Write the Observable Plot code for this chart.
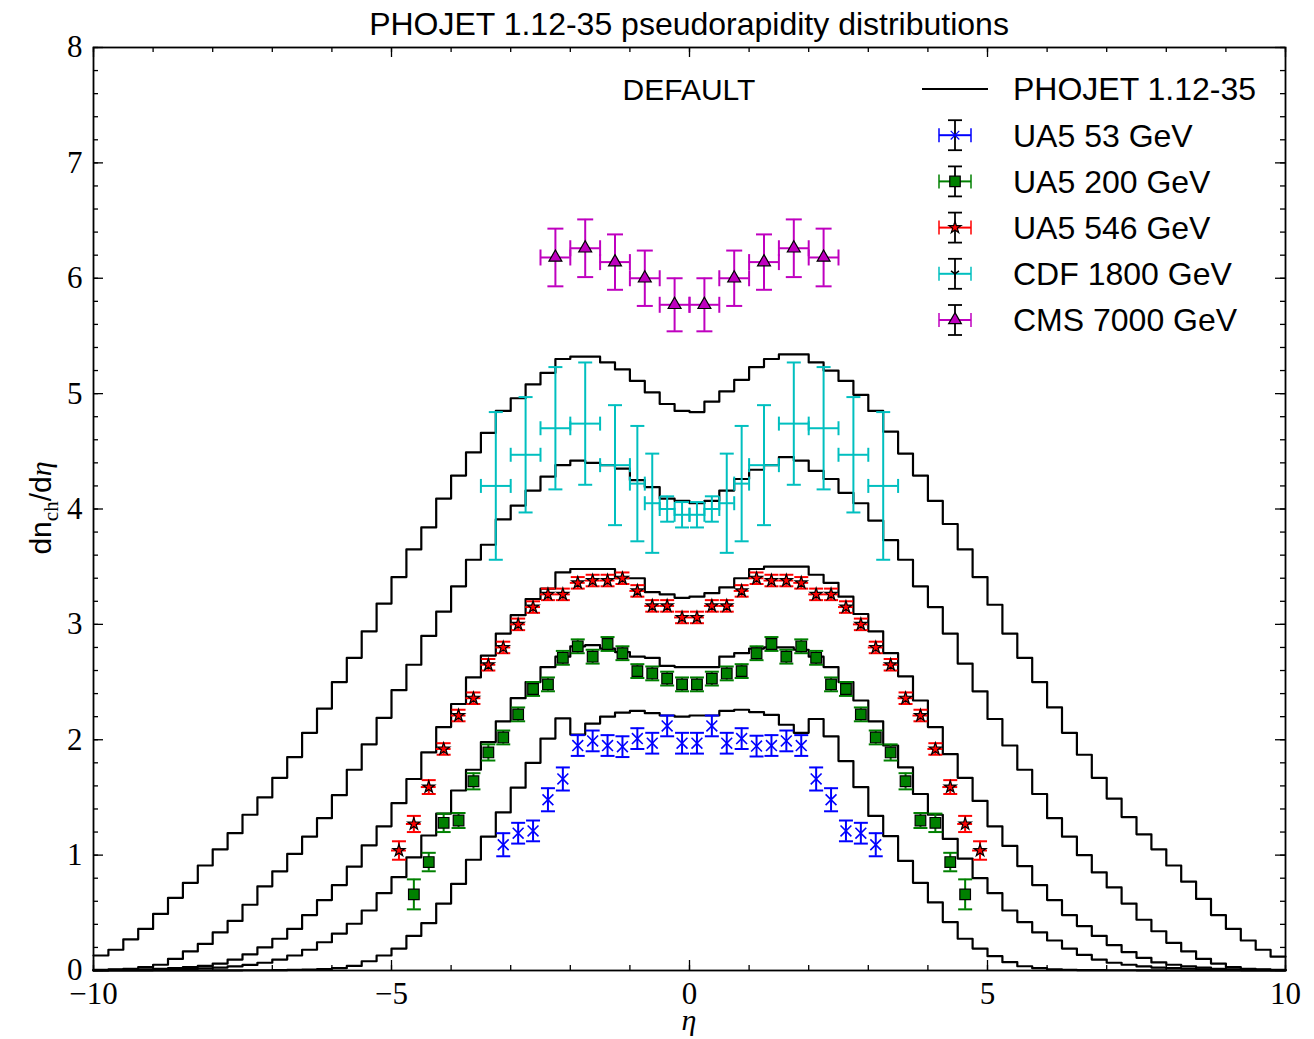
<!DOCTYPE html>
<html>
<head>
<meta charset="utf-8">
<script src="https://cdn.jsdelivr.net/npm/d3@7"></script>
<script src="https://cdn.jsdelivr.net/npm/@observablehq/plot@0.6"></script>
<style>
  html,body{margin:0;padding:0;background:#fff;}
  #wrap{position:relative;width:1314px;height:1039px;overflow:hidden;background:#fff;}
  #title{position:absolute;left:93px;width:1192px;top:6px;text-align:center;white-space:nowrap;font-family:"Liberation Sans",Arial,sans-serif;font-size:32px;line-height:36px;color:#000;}
  #chart svg{display:block;}
  #ylabel{position:absolute;left:44px;top:508px;transform:translate(-50%,-50%) rotate(-90deg);white-space:nowrap;font-family:"Liberation Sans",Arial,sans-serif;font-size:30px;line-height:1;color:#000;}
  #overlay{position:absolute;left:0;top:0;pointer-events:none;}
</style>
</head>
<body>
<div id="wrap">
  <div id="chart"></div>
  <div id="title">PHOJET 1.12-35 pseudorapidity distributions</div>
  <div id="ylabel">dn<sub style="font-family:'Liberation Serif',serif;font-size:21px;">ch</sub>/d<span style="font-family:'Liberation Serif',serif;font-style:italic;">η</span></div>
  <svg id="overlay" width="1314" height="1039"></svg>
</div>
<script>
// ---------------- data ----------------
const binLo = -10, binWidth = 0.25;   // PHOJET histograms: 80 bins of 0.25 from -10 to 10

const mc7000 = [0.13,0.18,0.27,0.36,0.49,0.63,0.76,0.91,1.05,1.19,
 1.35,1.50,1.67,1.85,2.06,2.27,2.50,2.71,2.94,3.18,
 3.41,3.65,3.84,4.09,4.29,4.49,4.66,4.85,4.96,5.08,
 5.18,5.30,5.32,5.32,5.27,5.21,5.11,5.01,4.91,4.85,
 4.84,4.93,5.02,5.12,5.23,5.30,5.34,5.34,5.27,5.20,
 5.11,4.99,4.85,4.67,4.48,4.29,4.07,3.87,3.65,3.41,
 3.17,2.92,2.71,2.50,2.28,2.06,1.87,1.67,1.49,1.33,
 1.18,1.05,0.91,0.77,0.62,0.48,0.36,0.26,0.18,0.12];

const mc1800 = [0.005,0.01,0.015,0.03,0.05,0.10,0.165,0.23,0.33,0.43,
 0.57,0.73,0.86,1.01,1.16,1.32,1.52,1.74,1.96,2.19,
 2.43,2.65,2.90,3.11,3.33,3.56,3.69,3.91,4.03,4.16,
 4.28,4.38,4.42,4.40,4.38,4.35,4.25,4.19,4.09,4.07,
 4.05,4.07,4.16,4.26,4.34,4.38,4.45,4.42,4.33,4.26,
 4.14,4.05,3.90,3.73,3.56,3.33,3.15,2.92,2.66,2.42,
 2.18,1.95,1.74,1.53,1.32,1.16,1.00,0.85,0.72,0.58,
 0.44,0.34,0.24,0.165,0.10,0.06,0.03,0.015,0.01,0.005];

const mc546 = [0.003,0.005,0.007,0.01,0.015,0.02,0.03,0.04,0.06,0.095,
 0.14,0.20,0.275,0.36,0.48,0.61,0.74,0.90,1.085,1.25,
 1.45,1.66,1.89,2.11,2.31,2.54,2.73,2.92,3.08,3.22,
 3.31,3.45,3.48,3.48,3.48,3.40,3.40,3.28,3.26,3.23,
 3.24,3.27,3.32,3.40,3.48,3.50,3.50,3.50,3.43,3.36,
 3.24,3.09,2.94,2.75,2.55,2.34,2.11,1.875,1.67,1.47,
 1.25,1.08,0.905,0.74,0.61,0.48,0.385,0.30,0.22,0.16,
 0.11,0.07,0.05,0.035,0.025,0.015,0.01,0.007,0.005,0.003];

const mc200 = [0.001,0.002,0.003,0.004,0.006,0.008,0.012,0.018,0.025,0.035,
 0.048,0.067,0.095,0.13,0.18,0.245,0.32,0.405,0.52,0.67,
 0.81,0.98,1.17,1.36,1.56,1.74,1.98,2.16,2.36,2.50,
 2.63,2.72,2.81,2.82,2.79,2.76,2.72,2.71,2.64,2.63,
 2.63,2.63,2.72,2.75,2.79,2.80,2.80,2.78,2.72,2.63,
 2.50,2.34,2.16,1.95,1.76,1.53,1.35,1.14,0.97,0.80,
 0.67,0.52,0.42,0.33,0.26,0.19,0.135,0.095,0.067,0.05,
 0.035,0.025,0.02,0.015,0.01,0.008,0.005,0.004,0.003,0.002];

const mc53 = [0,0,0,0,0,0,0,0,0.001,0.001,
 0.002,0.002,0.003,0.005,0.008,0.012,0.02,0.04,0.08,0.13,
 0.19,0.30,0.41,0.58,0.75,0.96,1.16,1.37,1.585,1.80,
 2.01,2.185,2.045,2.14,2.20,2.235,2.25,2.23,2.21,2.20,
 2.21,2.21,2.25,2.26,2.24,2.215,2.13,2.06,2.18,2.03,
 1.815,1.59,1.34,1.165,0.95,0.76,0.59,0.42,0.275,0.19,
 0.124,0.072,0.037,0.02,0.01,0.006,0.004,0.003,0.002,0.002,
 0.001,0.001,0,0,0,0,0,0,0,0];

// UA5 53 GeV
const ua5_53_eta = [-3.125,-2.875,-2.625,-2.375,-2.125,-1.875,-1.625,-1.375,-1.125,-0.875,-0.625,-0.375,-0.125,
                     0.125,0.375,0.625,0.875,1.125,1.375,1.625,1.875,2.125,2.375,2.625,2.875,3.125];
const ua5_53_val = [1.09,1.19,1.21,1.48,1.66,1.95,1.99,1.95,1.94,2.01,1.97,2.12,1.97,
                    1.97,2.12,1.97,2.01,1.945,1.95,1.99,1.95,1.66,1.48,1.21,1.19,1.09];
const ua5_53_err = [0.10,0.09,0.09,0.10,0.10,0.09,0.09,0.09,0.09,0.09,0.09,0.09,0.09,
                    0.09,0.09,0.09,0.09,0.09,0.09,0.09,0.09,0.10,0.10,0.09,0.09,0.10];

// UA5 200 GeV
const ua5_200_eta = [-4.625,-4.375,-4.125,-3.875,-3.625,-3.375,-3.125,-2.875,-2.625,-2.375,-2.125,-1.875,-1.625,-1.375,-1.125,-0.875,-0.625,-0.375,-0.125,
                      0.125,0.375,0.625,0.875,1.125,1.375,1.625,1.875,2.125,2.375,2.625,2.875,3.125,3.375,3.625,3.875,4.125,4.375,4.625];
const ua5_200_val = [0.66,0.94,1.28,1.30,1.64,1.89,2.02,2.22,2.44,2.48,2.71,2.81,2.72,2.83,2.75,2.595,2.575,2.53,2.48,
                     2.48,2.53,2.575,2.595,2.75,2.83,2.72,2.81,2.71,2.48,2.44,2.22,2.02,1.89,1.64,1.30,1.28,0.94,0.66];
const ua5_200_err = [0.13,0.08,0.08,0.065,0.07,0.07,0.06,0.06,0.06,0.06,0.06,0.06,0.06,0.06,0.06,0.06,0.06,0.06,0.06,
                     0.06,0.06,0.06,0.06,0.06,0.06,0.06,0.06,0.06,0.06,0.06,0.06,0.06,0.07,0.07,0.065,0.08,0.08,0.13];

// UA5 546 GeV
const ua5_546_eta = [-4.875,-4.625,-4.375,-4.125,-3.875,-3.625,-3.375,-3.125,-2.875,-2.625,-2.375,-2.125,-1.875,-1.625,-1.375,-1.125,-0.875,-0.625,-0.375,-0.125,
                      0.125,0.375,0.625,0.875,1.125,1.375,1.625,1.875,2.125,2.375,2.625,2.875,3.125,3.375,3.625,3.875,4.125,4.375,4.625,4.875];
const ua5_546_val = [1.04,1.27,1.59,1.92,2.21,2.36,2.65,2.80,3.00,3.15,3.26,3.26,3.36,3.38,3.38,3.40,3.29,3.16,3.16,3.06,
                     3.06,3.16,3.16,3.29,3.40,3.38,3.38,3.36,3.26,3.26,3.15,3.00,2.80,2.65,2.36,2.21,1.92,1.59,1.27,1.04];
const ua5_546_err = [0.08,0.07,0.06,0.05,0.05,0.05,0.05,0.05,0.05,0.05,0.05,0.05,0.05,0.05,0.05,0.05,0.05,0.05,0.05,0.05,
                     0.05,0.05,0.05,0.05,0.05,0.05,0.05,0.05,0.05,0.05,0.05,0.05,0.05,0.05,0.05,0.05,0.05,0.06,0.07,0.08];
const ua5_546_xerr = 0.125;

// CDF 1800 GeV (bin edges)
const cdf_lo  = [-3.5,-3.0,-2.5,-2.0,-1.5,-1.0,-0.75,-0.5,-0.25, 0.0,0.25,0.5,0.75,1.0,1.5,2.0,2.5,3.0];
const cdf_hi  = [-3.0,-2.5,-2.0,-1.5,-1.0,-0.75,-0.5,-0.25,0.0, 0.25,0.5,0.75,1.0,1.5,2.0,2.5,3.0,3.5];
const cdf_val = [4.20,4.47,4.70,4.74,4.38,4.22,4.05,4.00,3.95, 3.95,4.00,4.05,4.22,4.38,4.74,4.70,4.47,4.20];
const cdf_err = [0.64,0.50,0.53,0.53,0.52,0.50,0.43,0.11,0.11, 0.11,0.11,0.43,0.50,0.52,0.53,0.53,0.50,0.64];

// CMS 7000 GeV
const cms_eta  = [-2.25,-1.75,-1.25,-0.75,-0.25,0.25,0.75,1.25,1.75,2.25];
const cms_val  = [6.18,6.26,6.14,6.00,5.77,5.77,6.00,6.14,6.26,6.18];
const cms_err  = [0.25,0.25,0.24,0.24,0.23,0.23,0.24,0.24,0.25,0.25];
const cms_xerr = 0.25;

// axis ticks
const xTickLabels = [-10,-5,0,5,10];
const yTickLabels = [0,1,2,3,4,5,6,7,8];

const legendLabels = ["PHOJET 1.12-35","UA5 53 GeV","UA5 200 GeV","UA5 546 GeV","CDF 1800 GeV","CMS 7000 GeV"];
const tagText = "DEFAULT";
const xLabel = "η";

// ---------------- build ----------------
const colors = {b:"#0000ff", g:"#008000", r:"#ff0000", c:"#00bfbf", m:"#bf00bf"};

function stepPoints(vals, name) {
  const pts = vals.map((v, k) => ({x: binLo + k * binWidth, y: v, s: name}));
  pts.push({x: binLo + vals.length * binWidth, y: vals[vals.length - 1], s: name});
  return pts;
}
const histo = [["7000", mc7000], ["1800", mc1800], ["546", mc546], ["200", mc200], ["53", mc53]]
  .flatMap(([n, v]) => stepPoints(v, n));

function rows(eta, val, err, xlo, xhi) {
  return eta.map((e, i) => ({
    x: e, y: val[i], lo: val[i] - err[i], hi: val[i] + err[i],
    xlo: xlo ? xlo[i] : e, xhi: xhi ? xhi[i] : e
  }));
}
const d53 = rows(ua5_53_eta, ua5_53_val, ua5_53_err);
const d200 = rows(ua5_200_eta, ua5_200_val, ua5_200_err);
const d546 = rows(ua5_546_eta, ua5_546_val, ua5_546_err,
  ua5_546_eta.map(e => e - ua5_546_xerr), ua5_546_eta.map(e => e + ua5_546_xerr));
const dcdf = rows(cdf_lo.map((l, i) => (l + cdf_hi[i]) / 2), cdf_val, cdf_err, cdf_lo, cdf_hi);
const dcms = rows(cms_eta, cms_val, cms_err,
  cms_eta.map(e => e - cms_xerr), cms_eta.map(e => e + cms_xerr));

const capH = {draw(ctx, size) { const r = Math.sqrt(size / Math.PI); ctx.moveTo(-r, 0); ctx.lineTo(r, 0); }};
const capV = {draw(ctx, size) { const r = Math.sqrt(size / Math.PI); ctx.moveTo(0, -r); ctx.lineTo(0, r); }};

function errMarks(data, color, {capR = 7, sw = 2, xbars = false, xcaps = false} = {}) {
  const m = [];
  if (xbars) {
    m.push(Plot.ruleY(data, {y: "y", x1: "xlo", x2: "xhi", stroke: color, strokeWidth: sw}));
    if (xcaps) {
      m.push(Plot.dot(data, {x: "xlo", y: "y", symbol: capV, r: capR, fill: "none", stroke: color, strokeWidth: sw}));
      m.push(Plot.dot(data, {x: "xhi", y: "y", symbol: capV, r: capR, fill: "none", stroke: color, strokeWidth: sw}));
    }
  }
  m.push(Plot.ruleX(data, {x: "x", y1: "lo", y2: "hi", stroke: color, strokeWidth: sw}));
  m.push(Plot.dot(data, {x: "x", y: "lo", symbol: capH, r: capR, fill: "none", stroke: color, strokeWidth: sw}));
  m.push(Plot.dot(data, {x: "x", y: "hi", symbol: capH, r: capR, fill: "none", stroke: color, strokeWidth: sw}));
  return m;
}

const W = 1314, H = 1039;
const mL = 93, mR = 29, mT = 47, mB = 69;
const plotW = W - mL - mR, plotH = H - mT - mB;
const xMinor = d3.range(-10, 10.001, 1);
const yMinor = d3.range(0, 8.001, 0.2);
const fmt = d => (d < 0 ? "\u2212" : "") + Math.abs(d);
const tickStyle = {stroke: "black", strokeWidth: 1.3};

const chart = Plot.plot({
  width: W, height: H,
  marginLeft: mL, marginRight: mR, marginTop: mT, marginBottom: mB,
  style: {fontFamily: "'Liberation Serif', serif", fontSize: "32px", background: "white", color: "black"},
  x: {domain: [-10, 10]},
  y: {domain: [0, 8]},
  marks: [
    Plot.tickX(xMinor, {x: d => d, insetTop: plotH - 5, ...tickStyle}),
    Plot.tickX(xMinor, {x: d => d, insetBottom: plotH - 5, ...tickStyle}),
    Plot.tickX(xTickLabels, {x: d => d, insetTop: plotH - 10, ...tickStyle}),
    Plot.tickX(xTickLabels, {x: d => d, insetBottom: plotH - 10, ...tickStyle}),
    Plot.tickY(yMinor, {y: d => d, insetRight: plotW - 5, ...tickStyle}),
    Plot.tickY(yMinor, {y: d => d, insetLeft: plotW - 5, ...tickStyle}),
    Plot.tickY(yTickLabels, {y: d => d, insetRight: plotW - 10, ...tickStyle}),
    Plot.tickY(yTickLabels, {y: d => d, insetLeft: plotW - 10, ...tickStyle}),
    Plot.axisX(xTickLabels, {anchor: "bottom", tickSize: 0, tickPadding: 11, tickFormat: fmt, fontSize: 31, fontFamily: "'Liberation Serif', serif", label: null}),
    Plot.axisY(yTickLabels, {anchor: "left", tickSize: 0, tickPadding: 11, tickFormat: fmt, fontSize: 31, fontFamily: "'Liberation Serif', serif", label: null}),
    Plot.line(histo, {x: "x", y: "y", z: "s", curve: "step-after", stroke: "black", strokeWidth: 2.2}),
    ...errMarks(dcdf, colors.c, {capR: 7, xbars: true, xcaps: true}),
    ...errMarks(dcms, colors.m, {capR: 8, xbars: true, xcaps: true}),
    ...errMarks(d546, colors.r, {capR: 7, xbars: true}),
    ...errMarks(d200, colors.g, {capR: 7}),
    ...errMarks(d53, colors.b, {capR: 7}),
    Plot.dot(d53, {x: "x", y: "y", symbol: "times", r: 5, stroke: colors.b, strokeWidth: 1.6}),
    Plot.dot(d200, {x: "x", y: "y", symbol: "square", r: 6, fill: colors.g, stroke: "black", strokeWidth: 1.2}),
    Plot.dot(d546, {x: "x", y: "y", symbol: "star", r: 3.8, fill: colors.r, stroke: "black", strokeWidth: 1.2}),
    Plot.dot(dcms, {x: "x", y: "y", symbol: "triangle", r: 4.8, fill: colors.m, stroke: "black", strokeWidth: 1.2}),
    Plot.frame({stroke: "black", strokeWidth: 1.8})
  ]
});
document.getElementById("chart").appendChild(chart);

// ---------------- overlay: x label, DEFAULT tag, legend ----------------
const ov = d3.select("#overlay");
ov.append("text").attr("x", 689).attr("y", 1030)
  .attr("text-anchor", "middle").attr("font-family", "'Liberation Serif', serif")
  .attr("font-style", "italic").attr("font-size", 30).text(xLabel);

ov.append("text").attr("x", 689).attr("y", 89).attr("dy", "0.357em")
  .attr("text-anchor", "middle").attr("font-family", "'Liberation Sans', Arial, sans-serif")
  .attr("font-size", 30).text(tagText);

const legendX = 955, legendTextX = 1013, rowY0 = 89, rowDY = 46.2;
const lg = ov.append("g");
const legendStyle = [
  null,
  {c: colors.b, sym: d3.symbolTimes, size: 50, fill: "none", stroke: colors.b},
  {c: colors.g, sym: d3.symbolSquare, size: 110, fill: colors.g, stroke: "black"},
  {c: colors.r, sym: d3.symbolStar, size: 45, fill: colors.r, stroke: "black"},
  {c: colors.c, sym: d3.symbolTriangle, size: 0, fill: "none", stroke: "black"},
  {c: colors.m, sym: d3.symbolTriangle, size: 70, fill: colors.m, stroke: "black"}
];
legendLabels.forEach((lab, i) => {
  const y = rowY0 + i * rowDY;
  lg.append("text").attr("x", legendTextX).attr("y", y).attr("dy", "0.357em")
    .attr("font-family", "'Liberation Sans', Arial, sans-serif").attr("font-size", 32).text(lab);
  if (i === 0) {
    lg.append("line").attr("x1", 922).attr("x2", 988).attr("y1", y).attr("y2", y)
      .attr("stroke", "black").attr("stroke-width", 2.2);
    return;
  }
  const st = legendStyle[i];
  lg.append("line").attr("x1", legendX - 16).attr("x2", legendX + 16).attr("y1", y).attr("y2", y)
    .attr("stroke", st.c).attr("stroke-width", 2);
  [-16, 16].forEach(dx => lg.append("line").attr("x1", legendX + dx).attr("x2", legendX + dx)
    .attr("y1", y - 7).attr("y2", y + 7).attr("stroke", st.c).attr("stroke-width", 1.5));
  lg.append("line").attr("x1", legendX).attr("x2", legendX).attr("y1", y - 15).attr("y2", y + 15)
    .attr("stroke", "black").attr("stroke-width", 1.8);
  [-15, 15].forEach(dy => lg.append("line").attr("x1", legendX - 7).attr("x2", legendX + 7)
    .attr("y1", y + dy).attr("y2", y + dy).attr("stroke", "black").attr("stroke-width", 1.8));
  if (i === 4) {
    lg.append("path").attr("d", `M${legendX},${y} L${legendX},${y + 5} M${legendX},${y} L${legendX - 4},${y - 3} M${legendX},${y} L${legendX + 4},${y - 3}`)
      .attr("stroke", "black").attr("stroke-width", 1.5).attr("fill", "none");
  } else {
    lg.append("path").attr("d", d3.symbol(st.sym, st.size)())
      .attr("transform", `translate(${legendX},${y})`)
      .attr("fill", st.fill).attr("stroke", st.stroke).attr("stroke-width", 1.2);
  }
});
</script>
</body>
</html>
